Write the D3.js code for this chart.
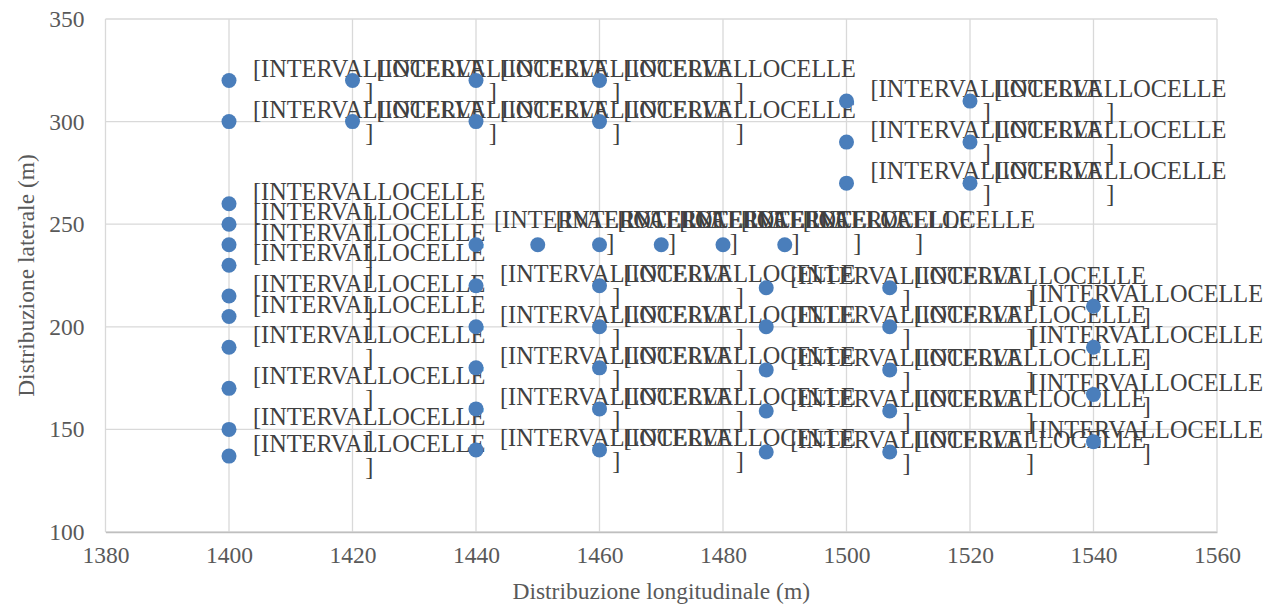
<!DOCTYPE html>
<html lang="en">
<head>
    <meta charset="utf-8">
    <title>Distribuzione</title>
    <script src="https://d3js.org/d3.v7.min.js"></script>
    <style>
        body { margin: 0; background: #fff; }
        text { font-family: "Liberation Serif", "Times New Roman", serif; }
    </style>
</head>
<body>
    <div id="my_dataviz"></div>
    <script>
        // axis ticks
        const xTicks = [1380, 1400, 1420, 1440, 1460, 1480, 1500, 1520, 1540, 1560];
        const yTicks = [100, 150, 200, 250, 300, 350];

        // columns of points: x value -> list of y values
        const colX = [1400, 1420, 1440, 1460, 1487, 1500, 1507, 1520, 1540];
        const col1400 = [320, 300, 260, 250, 230, 215, 205, 190, 170, 150, 137];
        const col1420 = [320, 300];
        const col1440 = [320, 300, 220, 200, 180, 160, 140];
        const col1460 = [320, 300, 220, 200, 180, 160, 140];
        const col1487 = [219, 200, 179, 159, 139];
        const col1500 = [310, 290, 270];
        const col1507 = [219, 200, 179, 159, 139];
        const col1520 = [310, 290, 270];
        const col1540 = [210, 190, 167, 144];
        const colY = [col1400, col1420, col1440, col1460, col1487, col1500, col1507, col1520, col1540];

        // the row at 240 (its labels sit a bit higher)
        const rowX = [1400, 1440, 1450, 1460, 1470, 1480, 1490];
        const rowY = [240, 240, 240, 240, 240, 240, 240];

        const labelLines = ["[INTERVALLOCELLE", "]"];

        const W = 1268, H = 605;
        const margin = { top: 19, right: 51, bottom: 73, left: 105.5 };
        const labelSize = 24.3;

        const svg = d3.select("#my_dataviz")
            .append("svg")
            .attr("width", W)
            .attr("height", H);

        const x = d3.scaleLinear().domain([1380, 1560]).range([margin.left, W - margin.right]);
        const y = d3.scaleLinear().domain([100, 350]).range([H - margin.bottom, margin.top]);

        // gridlines
        svg.append("g").selectAll("line")
            .data(yTicks)
            .join("line")
            .attr("x1", x(1380)).attr("x2", x(1560))
            .attr("y1", d => y(d)).attr("y2", d => y(d))
            .attr("stroke", "#d9d9d9")
            .attr("stroke-width", 1.3);
        svg.append("g").selectAll("line")
            .data(xTicks)
            .join("line")
            .attr("x1", d => x(d)).attr("x2", d => x(d))
            .attr("y1", y(100)).attr("y2", y(350))
            .attr("stroke", "#d9d9d9")
            .attr("stroke-width", 1.3);

        // axes
        const xAxis = svg.append("g")
            .attr("transform", `translate(0,${y(100)})`)
            .call(d3.axisBottom(x).tickValues(xTicks).tickSize(0).tickPadding(14).tickFormat(d3.format("d")));
        xAxis.select(".domain").attr("stroke", "#bfbfbf").attr("stroke-width", 1.5);
        xAxis.selectAll("text").attr("font-size", 23.5).attr("fill", "#595959")
            .attr("font-family", "'Liberation Serif', 'Times New Roman', serif");

        const yAxis = svg.append("g")
            .attr("transform", `translate(${x(1380)},0)`)
            .call(d3.axisLeft(y).tickValues(yTicks).tickSize(0).tickPadding(21));
        yAxis.select(".domain").remove();
        yAxis.selectAll("text").attr("font-size", 23.5).attr("fill", "#595959")
            .attr("font-family", "'Liberation Serif', 'Times New Roman', serif");

        // axis titles
        svg.append("text")
            .attr("x", (x(1380) + x(1560)) / 2)
            .attr("y", 599)
            .attr("text-anchor", "middle")
            .attr("font-size", 23.5)
            .attr("fill", "#595959")
            .text("Distribuzione longitudinale (m)");
        svg.append("text")
            .attr("transform", `translate(34,${(y(100) + y(350)) / 2}) rotate(-90)`)
            .attr("text-anchor", "middle")
            .attr("font-size", 23.5)
            .attr("fill", "#595959")
            .text("Distribuzione laterale (m)");

        // flatten data into points
        let points = [];
        colX.forEach((cx, i) => colY[i].forEach(v => points.push({ x: cx, y: v, mode: "right" })));
        rowX.forEach((rx, i) => points.push({ x: rx, y: rowY[i], mode: rx === 1400 ? "right" : "high" }));

        // measure label width once
        const probe = svg.append("text").attr("font-size", labelSize).text(labelLines[0]);
        const labelW = probe.node().getComputedTextLength();
        probe.remove();

        // labels
        const labels = svg.append("g");
        points.forEach(p => {
            const px = x(p.x), py = y(p.y);
            let left = p.mode === "high" ? px + 18 : px + 24;
            left = Math.min(left, W - 5 - labelW);
            const b1 = p.mode === "high" ? py - 17 : py - 4;
            const t = labels.append("text")
                .attr("text-anchor", "middle")
                .attr("font-size", labelSize)
                .attr("fill", "#404040");
            t.append("tspan").attr("x", left + labelW / 2).attr("y", b1).text(labelLines[0]);
            t.append("tspan").attr("x", left + labelW / 2).attr("y", b1 + 23).text(labelLines[1]);
        });

        // markers
        svg.append("g").selectAll("circle")
            .data(points)
            .join("circle")
            .attr("cx", d => x(d.x))
            .attr("cy", d => y(d.y))
            .attr("r", 7.5)
            .attr("fill", "#4a7ebb");
    </script>
</body>
</html>
